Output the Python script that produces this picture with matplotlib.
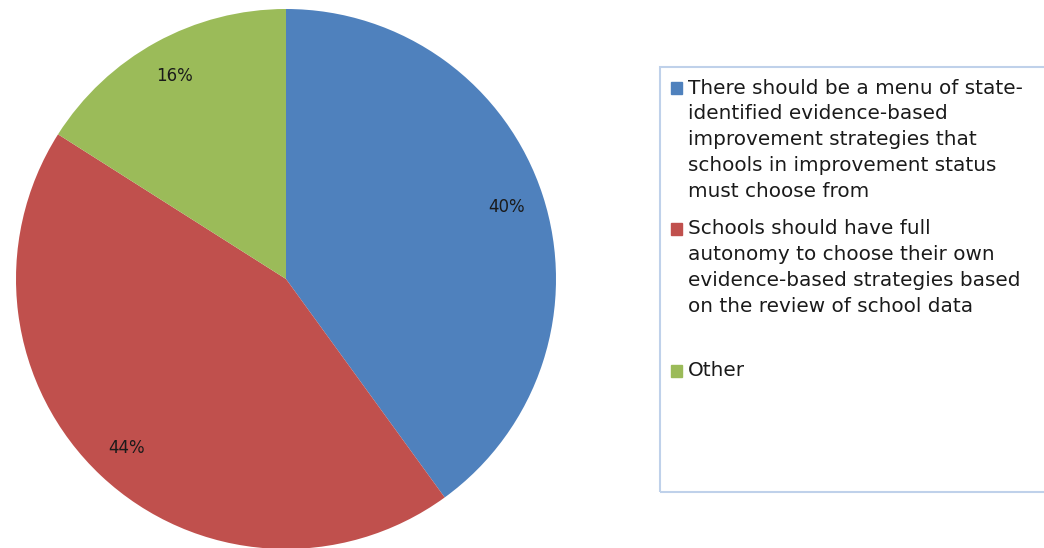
import matplotlib
matplotlib.use("Agg")
import matplotlib.pyplot as plt
from matplotlib.patches import Rectangle

# survey answers
labels = [
    "There should be a menu of state-\nidentified evidence-based\nimprovement strategies that\nschools in improvement status\nmust choose from",
    "Schools should have full\nautonomy to choose their own\nevidence-based strategies based\non the review of school data",
    "Other",
]
shares = [40, 44, 16]
colors = ["#4F81BD", "#C0504D", "#9BBB59"]

W, H = 1044, 548
fig = plt.figure(figsize=(W / 100, H / 100), dpi=100)

# pie: centre (286, 279) px, radius 270 px
cx, cy, r = 286, 279, 270
ax = fig.add_axes([(cx - r) / W, (H - cy - r) / H, 2 * r / W, 2 * r / H])
wedges, _, autotexts = ax.pie(
    shares, colors=colors, startangle=90, counterclock=False,
    autopct="%d%%", pctdistance=0.86, radius=1,
    wedgeprops=dict(linewidth=0),
    textprops=dict(fontsize=12, color="#1a1a1a"),
)
ax.set_xlim(-1, 1)
ax.set_ylim(-1, 1)
ax.set_aspect("auto")
ax.axis("off")

# legend box, cut off on the right
def px(x, y):
    return x / W, 1 - y / H

x0, y0 = px(660, 492)
fig.patches.append(Rectangle((x0, y0), (1100 - 660) / W, (492 - 67) / H,
                             transform=fig.transFigure, fill=False,
                             edgecolor="#BFD1EA", linewidth=1.5))

slot_top = [88, 229, 371]
line_h = 25.8
for lab, col, top in zip(labels, colors, slot_top):
    sx, sy = px(671, top + 6)
    fig.patches.append(Rectangle((sx, sy), 11 / W, 12 / H,
                                 transform=fig.transFigure, color=col))
    for i, line in enumerate(lab.split("\n")):
        tx, ty = px(688, top + i * line_h)
        fig.text(tx, ty, line, fontsize=14.4, color="#1a1a1a", va="center", ha="left")

fig.savefig("out.png", dpi=100)
